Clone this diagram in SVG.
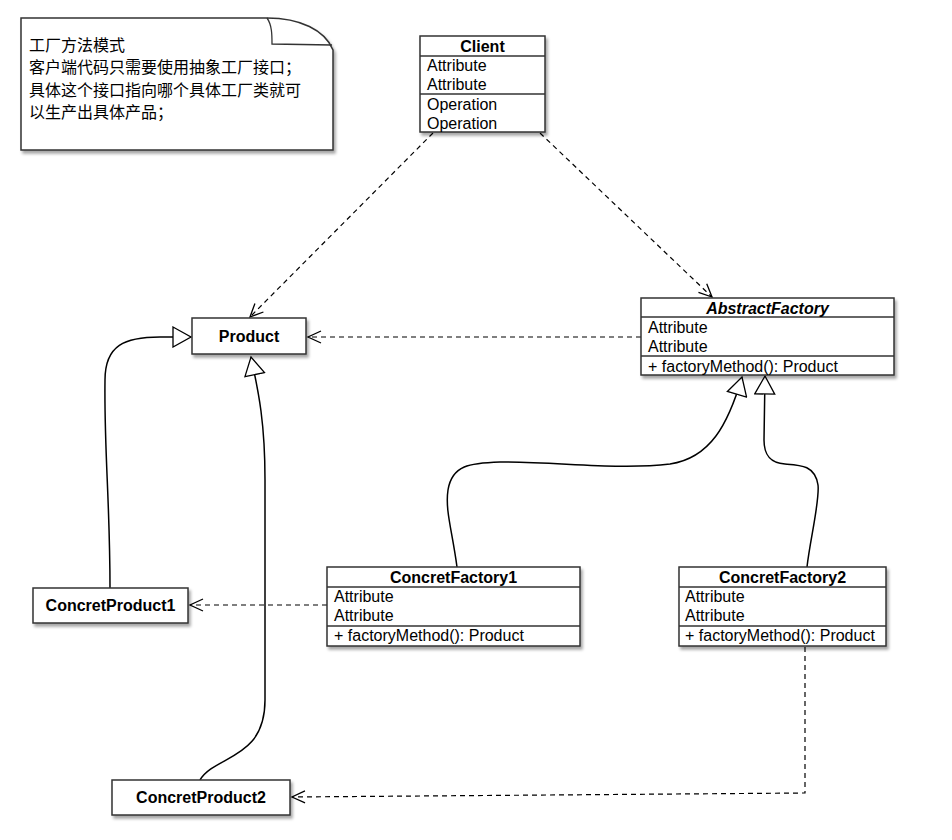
<svg xmlns="http://www.w3.org/2000/svg" width="952" height="840" viewBox="0 0 952 840">
<defs>
<style>
.box{fill:#fff;stroke:#333;stroke-width:1.5;filter:url(#sh)}
.sep{stroke:#333;stroke-width:1.3}
.t{font-family:"Liberation Sans",Arial,sans-serif;font-size:16px;fill:#000}
.b{font-weight:bold}
.c{text-anchor:middle}
.cjk{font-family:"Noto Sans CJK SC","Liberation Sans",sans-serif;font-size:16px;fill:#000}
.dash{fill:none;stroke:#000;stroke-width:1.2;stroke-dasharray:5,4;marker-end:url(#open)}
.gen{fill:none;stroke:#000;stroke-width:1.5;marker-end:url(#tri)}
</style>
<filter id="sh" x="-10%" y="-10%" width="130%" height="140%">
<feDropShadow dx="2" dy="3" stdDeviation="1.5" flood-color="#000" flood-opacity="0.35"/>
</filter>
<marker id="open" markerUnits="userSpaceOnUse" markerWidth="16" markerHeight="14" refX="14" refY="7" orient="auto">
<path d="M1,1 L14,7 L1,13" fill="none" stroke="#000" stroke-width="1.3" stroke-dasharray="none"/>
</marker>
<marker id="tri" markerUnits="userSpaceOnUse" markerWidth="22" markerHeight="22" refX="19" refY="11" orient="auto">
<path d="M1,1 L19,11 L1,21 z" fill="#fff" stroke="#000" stroke-width="1.3"/>
</marker>
</defs>
<rect width="952" height="840" fill="#fff"/>

<g id="note">
<path class="box" d="M21,18 L267,18 C300,18 325,30 333,50 L333,150 L21,150 Z"/>
<path d="M267,18 C272,25 272,35 272,44 L332,45" fill="none" stroke="#333" stroke-width="1.3"/>
<text class="cjk" x="29" y="51">工厂方法模式</text>
<text class="cjk" x="29" y="73">客户端代码只需要使用抽象工厂接口；</text>
<text class="cjk" x="29" y="96">具体这个接口指向哪个具体工厂类就可</text>
<text class="cjk" x="29" y="118">以生产出具体产品；</text>
</g>

<g id="connectors">
<path class="dash" d="M433,133 L250,317"/>
<path class="dash" d="M540,133 L712,297"/>
<path class="dash" d="M641,337 L308,337"/>
<path class="dash" d="M327,605 L190,605"/>
<path class="dash" d="M805,647 L805,793 L292,797"/>
<path class="gen" d="M110,588 C110,500 104,450 105,380 C105,345 125,337 160,337 L191,337"/>
<path class="gen" d="M200,780 C215,755 265,760 265,700 L265,480 C265,420 258,390 251,357"/>
<path class="gen" d="M457,567 C452,530 445,510 448,490 C452,465 470,463 500,462 C560,462 620,470 670,464 C710,458 728,425 742,377"/>
<path class="gen" d="M807,567 C810,540 820,500 818,485 C815,465 800,465 785,464 C770,463 764,455 764,440 L765,376"/>
</g>

<g id="client">
<rect class="box" x="420" y="36" width="125" height="96"/>
<line class="sep" x1="420" y1="56" x2="545" y2="56"/>
<line class="sep" x1="420" y1="94" x2="545" y2="94"/>
<text class="t b c" x="482.5" y="52">Client</text>
<text class="t" x="427" y="71">Attribute</text>
<text class="t" x="427" y="90">Attribute</text>
<text class="t" x="427" y="110">Operation</text>
<text class="t" x="427" y="129">Operation</text>
</g>

<g id="abstractfactory">
<rect class="box" x="641" y="298" width="253" height="77"/>
<line class="sep" x1="641" y1="317" x2="894" y2="317"/>
<line class="sep" x1="641" y1="356" x2="894" y2="356"/>
<text class="t b c" x="767.5" y="314" font-style="italic">AbstractFactory</text>
<text class="t" x="648" y="333">Attribute</text>
<text class="t" x="648" y="352">Attribute</text>
<text class="t" x="648" y="372">+ factoryMethod(): Product</text>
</g>

<g id="product">
<rect class="box" x="192" y="318" width="114" height="36"/>
<text class="t b c" x="249" y="342">Product</text>
</g>

<g id="concretfactory1">
<rect class="box" x="327" y="567" width="253" height="79"/>
<line class="sep" x1="327" y1="587" x2="580" y2="587"/>
<line class="sep" x1="327" y1="626" x2="580" y2="626"/>
<text class="t b c" x="453.5" y="583">ConcretFactory1</text>
<text class="t" x="334" y="602">Attribute</text>
<text class="t" x="334" y="621">Attribute</text>
<text class="t" x="334" y="641">+ factoryMethod(): Product</text>
</g>

<g id="concretfactory2">
<rect class="box" x="679" y="567" width="207" height="79"/>
<line class="sep" x1="679" y1="587" x2="886" y2="587"/>
<line class="sep" x1="679" y1="626" x2="886" y2="626"/>
<text class="t b c" x="782.5" y="583">ConcretFactory2</text>
<text class="t" x="685" y="602">Attribute</text>
<text class="t" x="685" y="621">Attribute</text>
<text class="t" x="685" y="641">+ factoryMethod(): Product</text>
</g>

<g id="concretproduct1">
<rect class="box" x="33" y="588" width="155" height="35"/>
<text class="t b c" x="110.5" y="611">ConcretProduct1</text>
</g>

<g id="concretproduct2">
<rect class="box" x="112" y="780" width="178" height="35"/>
<text class="t b c" x="201" y="803">ConcretProduct2</text>
</g>
</svg>
